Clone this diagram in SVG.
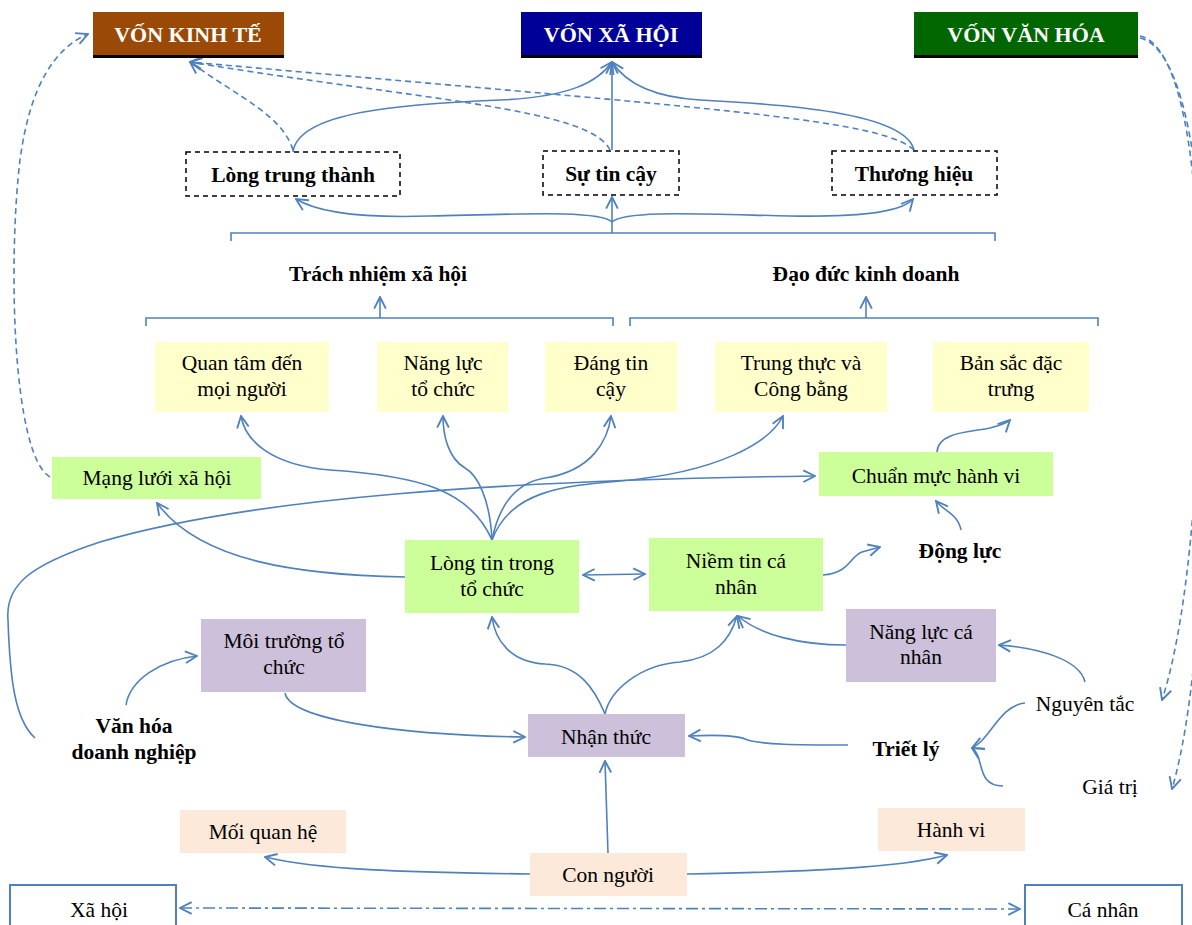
<svg xmlns="http://www.w3.org/2000/svg" width="1192" height="925" viewBox="0 0 1192 925">
<style>
.t{font-family:"Liberation Serif","Times New Roman",serif;font-size:21.5px;fill:#000;text-anchor:middle}
.b{font-weight:bold}
.cap{font-family:"Liberation Serif","Times New Roman",serif;font-size:22px;font-weight:bold;fill:#fff;text-anchor:middle}
.yl{fill:#FFFFCC}
.gr{fill:#CCFF99}
.pu{fill:#CCC0DA}
.pe{fill:#FDE9D9}
.dbox{fill:#fff;stroke:#000;stroke-width:1.5;stroke-dasharray:5 4}
.wbox{fill:#fff;stroke:#4F81BD;stroke-width:2}
.c{fill:none;stroke:#4F81BD;stroke-width:1.6}
.d{stroke-dasharray:6 4}
.dd{stroke-dasharray:12 4 3 4}
.a{marker-end:url(#ar)}
.s{marker-start:url(#ar)}
</style>
<defs>
<marker id="ar" viewBox="0 0 12 12" refX="11" refY="6" markerWidth="14" markerHeight="14" markerUnits="userSpaceOnUse" orient="auto-start-reverse">
<path d="M1,1 L11,6 L1,11" fill="none" stroke="#4F81BD" stroke-width="1.6"/>
</marker>
</defs>
<rect width="1192" height="925" fill="#fff"/>

<g id="connectors">
<path class="c d a" d="M50 477 C12 455,8 260,20 160 C30 85,55 48,88 34"/>
<path class="c d a" d="M293 150 C282 115,240 98,190 62"/>
<path class="c d a" d="M610 150 C590 108,420 100,190 62"/>
<path class="c d a" d="M914 150 C880 118,700 108,190 62"/>
<path class="c a" d="M293 152 C298 112,400 104,500 100 C570 97,598 82,612 62"/>
<path class="c a" d="M612 150 L612 62"/>
<path class="c a" d="M914 150 C905 112,780 104,700 100 C650 97,625 82,612 62"/>
<path class="c d a" d="M1140 36 C1180 45,1200 160,1200 330 C1200 490,1185 630,1162 700"/>
<path class="c d a" d="M1140 38 C1183 48,1208 170,1206 400 C1204 600,1192 720,1172 789"/>
<path class="c" d="M231 241 L231 233 L995 233 L995 241"/>
<path class="c a" d="M612 233 L612 197"/>
<path class="c a" d="M612 222 C600 210,520 214,430 216 C370 218,320 214,296 199"/>
<path class="c a" d="M612 222 C625 210,700 214,790 216 C850 217,900 214,913 199"/>
<path class="c" d="M146 326 L146 318 L613 318 L613 326"/>
<path class="c a" d="M380 318 L380 297"/>
<path class="c" d="M630 326 L630 318 L1098 318 L1098 326"/>
<path class="c a" d="M866 318 L866 297"/>
<path class="c a" d="M492 540 C470 490,420 476,330 470 C270 465,245 440,241 416"/>
<path class="c a" d="M492 540 C490 500,478 475,465 468 C448 458,443 435,443 416"/>
<path class="c a" d="M492 540 C500 500,520 482,545 478 C592 471,608 440,611 416"/>
<path class="c a" d="M492 540 C510 492,560 486,620 481 C720 472,770 442,783 416"/>
<path class="c a" d="M405 577 C300 575,200 562,157 503"/>
<path class="c a" d="M35 738 C15 720,10 680,8 620 C5 585,30 565,100 542 C250 498,500 480,815 476"/>
<path class="c a s" d="M583 575 L645 574"/>
<path class="c a" d="M823 575 C850 573,850 556,862 552 L880 547"/>
<path class="c a" d="M961 530 C958 514,945 512,936 501"/>
<path class="c a" d="M937 452 C938 432,970 432,990 428 C1002 425,1008 422,1010 420"/>
<path class="c a" d="M605 714 C595 690,580 665,545 664 C510 662,495 640,492 617"/>
<path class="c a" d="M605 714 C610 690,640 665,680 662 C715 658,730 640,737 616"/>
<path class="c a" d="M846 645 C800 645,760 635,738 616"/>
<path class="c a" d="M1085 682 C1080 660,1040 648,999 645"/>
<path class="c a" d="M1025 703 C1000 705,990 740,972 748"/>
<path class="c a" d="M1003 786 C975 786,985 756,972 748"/>
<path class="c a" d="M848 745 C800 745,760 745,745 739 C735 735,710 735,689 736"/>
<path class="c a" d="M285 693 C290 720,400 735,525 737"/>
<path class="c a" d="M126 705 C130 680,160 660,197 656"/>
<path class="c a" d="M608 853 L605 761"/>
<path class="c a" d="M530 874 C400 872,320 870,265 857"/>
<path class="c a" d="M687 874 C800 872,900 868,947 855"/>
<path class="c dd a s" d="M180 908 L1020 909"/>
</g>

<g id="von-kinh-te">
<rect x="93" y="12" width="191" height="44" fill="#9A4A06"/>
<rect x="93" y="55" width="191" height="3" fill="#000"/>
<text class="cap" x="188" y="42">VỐN KINH TẾ</text>
</g>
<g id="von-xa-hoi">
<rect x="521" y="12" width="181" height="44" fill="#000099"/>
<rect x="521" y="55" width="181" height="3" fill="#000"/>
<text class="cap" x="611" y="42">VỐN XÃ HỘI</text>
</g>
<g id="von-van-hoa">
<rect x="914" y="12" width="224" height="44" fill="#006600"/>
<rect x="914" y="55" width="224" height="3" fill="#000"/>
<text class="cap" x="1026" y="42">VỐN VĂN HÓA</text>
</g>

<g id="long-trung-thanh">
<rect class="dbox" x="186" y="152" width="214" height="44"/>
<text class="t b" x="293" y="182">Lòng trung thành</text>
</g>
<g id="su-tin-cay">
<rect class="dbox" x="543" y="151" width="136" height="44"/>
<text class="t b" x="611" y="181">Sự tin cậy</text>
</g>
<g id="thuong-hieu">
<rect class="dbox" x="832" y="151" width="165" height="44"/>
<text class="t b" x="914" y="181">Thương hiệu</text>
</g>

<g id="trach-nhiem-xa-hoi"><text class="t b" x="378" y="281">Trách nhiệm xã hội</text></g>
<g id="dao-duc-kinh-doanh"><text class="t b" x="866" y="281">Đạo đức kinh doanh</text></g>

<g id="quan-tam">
<rect class="yl" x="155" y="342" width="174" height="70"/>
<text class="t" x="242" y="370">Quan tâm đến</text>
<text class="t" x="242" y="396">mọi người</text>
</g>
<g id="nang-luc-to-chuc">
<rect class="yl" x="377" y="342" width="131" height="70"/>
<text class="t" x="443" y="370">Năng lực</text>
<text class="t" x="443" y="396">tổ chức</text>
</g>
<g id="dang-tin-cay">
<rect class="yl" x="545" y="342" width="132" height="70"/>
<text class="t" x="611" y="370">Đáng tin</text>
<text class="t" x="611" y="396">cậy</text>
</g>
<g id="trung-thuc">
<rect class="yl" x="715" y="342" width="172" height="70"/>
<text class="t" x="801" y="370">Trung thực và</text>
<text class="t" x="801" y="396">Công bằng</text>
</g>
<g id="ban-sac">
<rect class="yl" x="933" y="342" width="156" height="70"/>
<text class="t" x="1011" y="370">Bản sắc đặc</text>
<text class="t" x="1011" y="396">trưng</text>
</g>

<g id="mang-luoi">
<rect class="gr" x="52" y="457" width="209" height="42"/>
<text class="t" x="157" y="485">Mạng lưới xã hội</text>
</g>
<g id="chuan-muc">
<rect class="gr" x="819" y="452" width="234" height="44"/>
<text class="t" x="936" y="483">Chuẩn mực hành vi</text>
</g>
<g id="long-tin">
<rect class="gr" x="405" y="540" width="174" height="73"/>
<text class="t" x="492" y="570">Lòng tin trong</text>
<text class="t" x="492" y="596">tổ chức</text>
</g>
<g id="niem-tin">
<rect class="gr" x="649" y="538" width="174" height="73"/>
<text class="t" x="736" y="568">Niềm tin cá</text>
<text class="t" x="736" y="594">nhân</text>
</g>
<g id="dong-luc"><text class="t b" x="960" y="558">Động lực</text></g>

<g id="moi-truong">
<rect class="pu" x="201" y="619" width="165" height="73"/>
<text class="t" x="284" y="648">Môi trường tổ</text>
<text class="t" x="284" y="674">chức</text>
</g>
<g id="nang-luc-ca-nhan">
<rect class="pu" x="846" y="609" width="150" height="73"/>
<text class="t" x="921" y="639">Năng lực cá</text>
<text class="t" x="921" y="664">nhân</text>
</g>
<g id="nhan-thuc">
<rect class="pu" x="528" y="714" width="157" height="43"/>
<text class="t" x="606" y="744">Nhận thức</text>
</g>

<g id="van-hoa"><text class="t b" x="134" y="733">Văn hóa</text><text class="t b" x="134" y="759">doanh nghiệp</text></g>
<g id="triet-ly"><text class="t b" x="906" y="756">Triết lý</text></g>
<g id="nguyen-tac"><text class="t" x="1085" y="711">Nguyên tắc</text></g>
<g id="gia-tri"><text class="t" x="1110" y="794">Giá trị</text></g>

<g id="moi-quan-he">
<rect class="pe" x="180" y="810" width="166" height="43"/>
<text class="t" x="263" y="839">Mối quan hệ</text>
</g>
<g id="con-nguoi">
<rect class="pe" x="530" y="853" width="157" height="43"/>
<text class="t" x="608" y="882">Con người</text>
</g>
<g id="hanh-vi">
<rect class="pe" x="878" y="808" width="147" height="43"/>
<text class="t" x="951" y="837">Hành vi</text>
</g>

<g id="xa-hoi">
<rect class="wbox" x="10" y="885" width="166" height="50"/>
<text class="t" x="99" y="917">Xã hội</text>
</g>
<g id="ca-nhan">
<rect class="wbox" x="1025" y="885" width="157" height="50"/>
<text class="t" x="1103" y="917">Cá nhân</text>
</g>
</svg>
